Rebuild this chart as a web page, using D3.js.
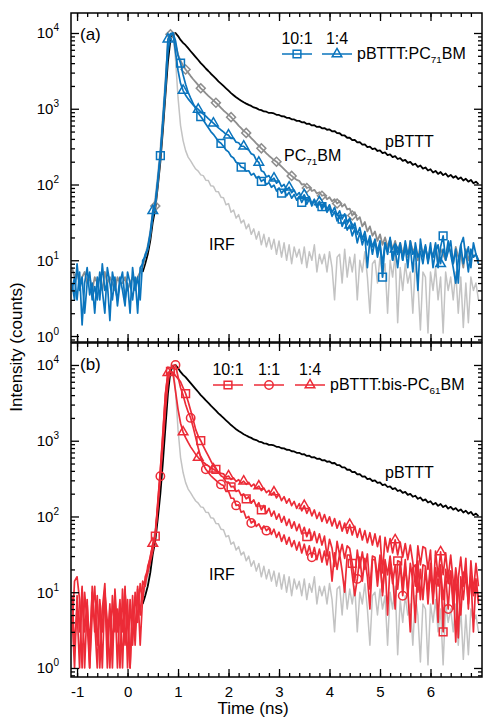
<!DOCTYPE html>
<html>
<head>
<meta charset="utf-8">
<script src="https://cdn.jsdelivr.net/npm/d3@7"></script>
<style>
  body { margin: 0; background: #fff; }
  text { font-family: "Liberation Sans", Arial, Helvetica, sans-serif; fill: #000; }
</style>
</head>
<body>
<svg width="483" height="719"></svg>
<script>
const svg = d3.select("svg");

// TCSPC decays, sampled every dt ns starting at t0 (counts, null = not recorded)
const t0 = -1.1, dt = 0.05;
const _ = null;

const pBTTT = [
  _, _, _, _, _, _, _, _, _, _,
  _, _, _, _, _, _, _, _, _, _,
  _, _, _, _, _, _, _, _, 7, 9,
  12, 18, 32, 48, 95, 200, 520, 1500, 4200, 8200,
  9700, 10000, 9100, 8100, 7400, 6900, 6300, 5750, 5250, 4800,
  4400, 4000, 3700, 3400, 3150, 2900, 2700, 2500, 2300, 2150,
  2000, 1860, 1730, 1610, 1510, 1420, 1345, 1280, 1220, 1170,
  1125, 1090, 1040, 1020, 975, 960, 922, 914, 880, 884,
  866, 832, 828, 796, 793, 760, 758, 726, 722, 692,
  692, 662, 664, 630, 634, 602, 606, 576, 582, 552,
  556, 528, 533, 504, 508, 476, 475, 444, 444, 414,
  414, 386, 388, 359, 362, 336, 338, 312, 317, 294,
  299, 277, 282, 260, 266, 245, 250, 230, 237, 217,
  223, 205, 211, 193, 199, 182, 188, 171, 178, 162,
  168, 153, 159, 144, 151, 138, 146, 133, 140, 127,
  134, 123, 129, 118, 124, 113, 119, 109, 115, 104,
  109, 101
];

const IRF = [
  _, _, _, _, _, _, _, _, _, _,
  _, _, _, _, _, _, _, _, _, _,
  _, _, _, _, _, _, _, _, 8, 12,
  16, 25, 45, 70, 140, 320, 900, 2600, 6800, 9600,
  10000, 4500, 1400, 600, 380, 280, 230, 205, 180, 160,
  150, 134, 131, 114, 113, 96, 95, 81, 80, 68,
  67, 54, 56, 43, 46, 36, 40, 31, 34, 26,
  30, 22, 26, 19, 24, 16, 22, 15, 20, 14,
  19, 12, 18, 11, 17, 10, 16, 9, 15, 11,
  14, 9, 15, 8, 13, 10, 16, 7, 12, 9,
  12, 7, 13, 8, 3, 11, 12, 5, 14, 6,
  11, 7, 12, 3, 10, 7, 13, 6, 2, 9,
  10, 5, 11, 6, 9, 2, 10, 6, 12, 1.5,
  8, 4, 9, 5, 7, 2, 9, 5, 1.2, 7,
  6, 1.1, 7, 4, 8, 3, 6, 1.1, 7, 4,
  6, 3, 7, 2, 6, 1.3, 5, 1.5, 6, 4,
  5, 3
];

const PC71BM = [
  8, 6, 7, 5, 6, 7, 5, 6, 4, 6,
  5, 6, 4, 7, 5, 6, 5, 4, 6, 5,
  5, 6, 4, 5, 6, 5, 6, 7, 8, 11,
  14, 21, 40, 52, 105, 230, 640, 1850, 8000, 9600,
  10000, 7000, 5200, 4300, 3700, 3300, 3000, 2700, 2450, 2250,
  2050, 1860, 1740, 1600, 1480, 1380, 1290, 1200, 1120, 1030,
  950, 890, 830, 775, 710, 655, 600, 555, 510, 480,
  445, 410, 380, 350, 325, 300, 280, 258, 240, 225,
  210, 200, 185, 172, 160, 148, 138, 130, 122, 115,
  112, 100, 101, 90, 92, 82, 85, 76, 79, 71,
  73, 64, 68, 60, 64, 56, 60, 51, 55, 47,
  48, 39, 43, 34, 37, 28, 32, 24, 28, 21,
  24, 18, 22, 16, 20, 15, 19, 14, 18, 13,
  17, 12, 16, 11, 18, 13, 15, 10, 16, 12,
  15, 10, 14, 11, 16, 9, 14, 12, 10, 15,
  13, 9, 15, 11, 12, 8, 14, 10, 13, 11,
  12, 10
];

const pc71_10to1 = [
  4, 6, 3, 7, 1.4, 5, 8, 3.5, 5, 2,
  6, 3, 9, 4, 5, 1.6, 7, 4.5, 3, 6,
  4, 2.5, 7, 5, 3, 6, 2, 8, 9, 12,
  14, 22, 38, 55, 110, 240, 650, 1900, 5500, 9300,
  10000, 7900, 5000, 4000, 2800, 2100, 1650, 1380, 1170, 1000,
  870, 790, 710, 630, 560, 500, 460, 415, 370, 350,
  320, 285, 270, 236, 224, 197, 190, 170, 166, 150,
  152, 133, 140, 122, 128, 110, 117, 100, 106, 92,
  98, 82, 90, 77, 85, 71, 79, 66, 74, 62,
  70, 58, 67, 55, 64, 52, 62, 50, 60, 51,
  57, 47, 54, 43, 50, 39, 45, 35, 41, 32,
  36, 26, 31, 22, 27, 19, 24, 16, 21, 15,
  19, 13, 18, 6, 17, 12, 19, 10, 16, 12,
  17, 10, 15, 8, 18, 12, 14, 4, 19, 11,
  16, 9, 14, 11, 17, 8, 15, 21, 10, 13,
  18, 9, 14, 5, 16, 20, 11, 15, 8, 17,
  12, 10
];

const pc71_1to4 = [
  5, 3, 9, 4, 6, 2, 5, 7, 3, 4.5,
  3, 7, 4, 2, 8, 5, 3, 6, 2.5, 5,
  7, 3, 5, 2, 8, 4, 6, 3, 10, 11,
  15, 23, 45, 58, 120, 260, 720, 2100, 8300, 9800,
  10000, 5600, 3200, 2150, 1740, 1510, 1350, 1230, 1120, 1050,
  980, 910, 850, 800, 740, 690, 645, 600, 560, 525,
  495, 460, 448, 405, 408, 362, 356, 322, 320, 296,
  286, 255, 246, 210, 196, 152, 146, 126, 131, 114,
  121, 104, 111, 94, 100, 85, 92, 78, 84, 72,
  78, 66, 73, 61, 69, 56, 64, 52, 59, 47,
  54, 43, 49, 38, 44, 33, 39, 28, 34, 25,
  29, 21, 26, 17, 23, 16, 21, 8, 19, 12,
  18, 11, 16, 9, 17, 13, 20, 10, 14, 8,
  16, 10, 18, 12, 15, 7, 17, 11, 13, 9,
  15, 10, 17, 8, 13, 16, 9, 14, 11, 18,
  12, 8, 5, 10, 16, 9, 13, 7, 14, 11,
  12, 9
];

const bis_10to1 = [
  5, 1, 9, 3, 12, 1, 7, 2, 10, 4,
  1, 8, 3, 11, 1, 6, 2, 9, 1, 7,
  3, 12, 1, 8, 2, 10, 4, 13, 8, 16,
  20, 30, 42, 55, 150, 400, 1200, 4000, 7800, 8200,
  8000, 7200, 6600, 6000, 5000, 4200, 3300, 2500, 1900, 1400,
  1150, 1000, 850, 730, 630, 540, 470, 420, 380, 345,
  330, 285, 284, 246, 250, 214, 222, 190, 198, 171,
  182, 150, 166, 136, 152, 122, 140, 110, 128, 101,
  118, 92, 108, 84, 100, 76, 92, 70, 85, 65,
  79, 59, 72, 54, 68, 49, 63, 45, 59, 42,
  55, 30, 50, 38, 22, 47, 31, 43, 28, 41,
  38, 24, 14, 36, 21, 34, 20, 32, 11, 30,
  29, 15, 31, 9, 27, 17, 30, 16, 6, 26,
  25, 12, 27, 9, 24, 14, 4, 26, 8, 23,
  22, 10, 24, 7, 21, 12, 23, 3, 20, 13,
  19, 8, 21, 11, 5, 18, 20, 9, 17, 3,
  15, 8
];

const bis_1to1 = [
  9, 2, 6, 1, 11, 3, 8, 1, 5, 12,
  2, 7, 1, 10, 4, 1, 9, 3, 6, 1,
  11, 2, 8, 1, 6, 3, 12, 2, 9, 14,
  18, 25, 35, 60, 130, 340, 900, 2500, 5800, 8800,
  9800, 10000, 7000, 5000, 4000, 3000, 2400, 2000, 1500, 1100,
  800, 600, 480, 420, 380, 345, 320, 300, 280, 265,
  256, 214, 215, 174, 174, 140, 142, 114, 118, 95,
  100, 82, 88, 74, 80, 68, 75, 65, 70, 58,
  68, 53, 62, 47, 57, 43, 53, 40, 48, 36,
  46, 33, 43, 31, 41, 29, 39, 27, 37, 25,
  35, 23, 34, 14, 33, 20, 32, 19, 10, 31,
  31, 17, 9, 15, 29, 14, 28, 16, 6, 27,
  27, 12, 26, 10, 25, 5, 24, 13, 23, 11,
  24, 9, 22, 11, 3, 21, 23, 10, 20, 8,
  21, 7, 19, 9, 18, 4, 20, 8, 17, 6,
  19, 6, 17, 2.5, 16, 8, 18, 7, 15, 9,
  14, 7
];

const bis_1to4 = [
  3, 14, 16, 8, 1, 10, 4, 1, 12, 3,
  9, 1, 6, 13, 2, 7, 1, 11, 3, 8,
  1, 10, 4, 1, 9, 2, 11, 5, 14, 12,
  22, 28, 44, 58, 160, 420, 1300, 4200, 7900, 8300,
  7800, 4500, 2600, 1700, 1300, 1100, 950, 830, 740, 660,
  600, 555, 520, 490, 465, 440, 420, 400, 385, 370,
  365, 330, 342, 308, 322, 290, 306, 276, 292, 266,
  282, 250, 268, 236, 252, 220, 237, 206, 221, 192,
  210, 176, 196, 162, 183, 150, 171, 139, 158, 128,
  148, 119, 139, 110, 130, 102, 122, 94, 113, 86,
  106, 82, 99, 75, 94, 70, 87, 64, 82, 60,
  78, 57, 74, 53, 69, 49, 65, 45, 61, 42,
  59, 40, 55, 18, 53, 34, 51, 33, 49, 31,
  46, 29, 44, 27, 42, 25, 12, 41, 23, 40,
  38, 20, 36, 9, 35, 16, 34, 17, 33, 15,
  31, 14, 2.2, 15, 29, 12, 28, 6, 26, 10,
  24, 12
];

const xTicks = [-1, 0, 1, 2, 3, 4, 5, 6];
const xMinor = d3.range(-1.0, 7.0, 0.2).map(v => +v.toFixed(1));
const decades = [0, 1, 2, 3, 4];
const ratiosA = ["10:1", "1:4"];
const ratiosB = ["10:1", "1:1", "1:4"];

const blue = "#0a74bd", red = "#ec2b37", gray = "#8e8e8e", light = "#c3c3c3";
const left = 71, right = 482;

const x = d3.scaleLinear().domain([-1.12, 7.02]).range([left, right]);

const sym = {
  square: d3.symbol().type(d3.symbolSquare).size(60)(),
  triangle: d3.symbol().type(d3.symbolTriangle).size(40)(),
  circle: d3.symbol().type(d3.symbolCircle).size(55)(),
  diamond: d3.symbol().type(d3.symbolSquare).size(40)()
};

// marker placement: every `every` points, thinned to every third one after `sparse`
const panels = [
  {
    name: "(a)", top: 13, bottom: 342, yDomain: [10 ** -0.079, 10 ** 4.264], xLabels: false,
    series: [
      { values: IRF, color: light, width: 1.5 },
      { values: pBTTT, color: "#000", width: 1.8 },
      { values: PC71BM, color: gray, width: 1.8, marker: "diamond", every: 6, offset: 3, from: 33, to: 111, sparse: 999 },
      { values: pc71_1to4, color: blue, width: 1.7, marker: "triangle", every: 6, offset: 2, from: 32, to: 161, sparse: 100 },
      { values: pc71_10to1, color: blue, width: 1.7, marker: "square", every: 8, offset: 3, from: 35, to: 161, sparse: 110 }
    ],
    legend: { color: blue, labels: ratiosA, markers: ["square", "triangle"], x0: 282, step: 40, yText: 44, yLine: 54,
              name: ["pBTTT:PC", "71", "BM"], nameX: 357, nameY: 59 },
    notes: [
      { text: ["pBTTT"], x: 385, y: 147 },
      { text: ["PC", "71", "BM"], x: 284, y: 161 },
      { text: ["IRF"], x: 209, y: 250 }
    ]
  },
  {
    name: "(b)", top: 343, bottom: 677, yDomain: [10 ** -0.119, 10 ** 4.29], xLabels: true,
    series: [
      { values: IRF, color: light, width: 1.5 },
      { values: pBTTT, color: "#000", width: 1.8 },
      { values: bis_1to4, color: red, width: 1.7, marker: "triangle", every: 6, offset: 2, from: 32, to: 161, sparse: 80 },
      { values: bis_10to1, color: red, width: 1.7, marker: "square", every: 6, offset: 3, from: 33, to: 161, sparse: 70 },
      { values: bis_1to1, color: red, width: 1.7, marker: "circle", every: 6, offset: 5, from: 35, to: 161, sparse: 80 }
    ],
    legend: { color: red, labels: ratiosB, markers: ["square", "circle", "triangle"], x0: 213, step: 41, yText: 375, yLine: 385,
              name: ["pBTTT:bis-PC", "61", "BM"], nameX: 330, nameY: 390 },
    notes: [
      { text: ["pBTTT"], x: 385, y: 478 },
      { text: ["IRF"], x: 209, y: 580 }
    ]
  }
];

function addRichText(g, parts, px, py, size) {
  const t = g.append("text").attr("x", px).attr("y", py).style("font-size", size + "px");
  parts.forEach((p, k) => {
    if (k === 1) {
      t.append("tspan").text(p).attr("dy", 4).style("font-size", (size * 0.62) + "px");
    } else if (k === 2) {
      t.append("tspan").text(p).attr("dy", -4);
    } else {
      t.append("tspan").text(p);
    }
  });
  return t;
}

panels.forEach((p, pi) => {
  const y = d3.scaleLog().domain(p.yDomain).range([p.bottom, p.top]);
  const g = svg.append("g");

  const clipId = "clip" + pi;
  svg.append("clipPath").attr("id", clipId)
    .append("rect").attr("x", left).attr("y", p.top)
    .attr("width", right - left).attr("height", p.bottom - p.top);

  const plot = g.append("g").attr("clip-path", `url(#${clipId})`);

  const line = d3.line()
    .defined(d => d != null)
    .x((d, i) => x(t0 + i * dt))
    .y(d => y(d));

  p.series.forEach(s => {
    plot.append("path")
      .attr("d", line(s.values))
      .attr("fill", "none")
      .attr("stroke", s.color)
      .attr("stroke-width", s.width)
      .attr("stroke-linejoin", "round");

    if (s.marker) {
      const idx = d3.range(s.from, s.to + 1)
        .filter(i => i % s.every === s.offset)
        .filter(i => i <= s.sparse || ((i - s.offset) / s.every) % 3 === 0);
      plot.selectAll(null).data(idx).join("path")
        .attr("d", sym[s.marker])
        .attr("transform", i => `translate(${x(t0 + i * dt)},${y(s.values[i])})` + (s.marker === "diamond" ? " rotate(45)" : ""))
        .attr("fill", "none")
        .attr("stroke", s.color)
        .attr("stroke-width", 1.5);
    }
  });

  // axes, ticks pointing inward
  const yMinor = [];
  for (let d = -1; d <= 4; d++) {
    for (let m = 2; m <= 9; m++) {
      const v = m * 10 ** d;
      if (v > p.yDomain[0] && v < p.yDomain[1]) yMinor.push(v);
    }
  }
  const majorY = decades.map(d => 10 ** d);

  const axes = [
    [d3.axisBottom(x).tickValues(xTicks).tickSize(-8), `translate(0,${p.bottom})`, true],
    [d3.axisBottom(x).tickValues(xMinor).tickSize(-4), `translate(0,${p.bottom})`, false],
    [d3.axisTop(x).tickValues(xTicks).tickSize(-8), `translate(0,${p.top})`, false],
    [d3.axisTop(x).tickValues(xMinor).tickSize(-4), `translate(0,${p.top})`, false],
    [d3.axisLeft(y).tickValues(majorY).tickSize(-8), `translate(${left},0)`, false],
    [d3.axisLeft(y).tickValues(yMinor).tickSize(-4), `translate(${left},0)`, false],
    [d3.axisRight(y).tickValues(majorY).tickSize(-8), `translate(${right},0)`, false],
    [d3.axisRight(y).tickValues(yMinor).tickSize(-4), `translate(${right},0)`, false]
  ];
  axes.forEach(([ax, tr, labelled]) => {
    const showLabels = labelled && p.xLabels;
    ax.tickFormat(showLabels ? (d => String(d)) : "").tickPadding(9);
    const a = g.append("g").attr("transform", tr).call(ax);
    a.select(".domain").remove();
    a.selectAll("line").attr("stroke", "#000").attr("stroke-width", 1.3);
    a.selectAll("text").style("font-size", "15px").style("font-family", '"Liberation Sans", Arial, sans-serif').attr("fill", "#000");
  });

  g.append("rect")
    .attr("x", left).attr("y", p.top)
    .attr("width", right - left).attr("height", p.bottom - p.top)
    .attr("fill", "none").attr("stroke", "#000").attr("stroke-width", 1.5);

  // y tick labels: 10^n
  decades.forEach(d => {
    const t = g.append("text")
      .attr("x", 59).attr("y", y(10 ** d) + 5.5)
      .attr("text-anchor", "end")
      .style("font-size", "15px");
    t.append("tspan").text("10");
    t.append("tspan").text(d).attr("dy", -7).style("font-size", "10px");
  });

  // panel tag
  g.append("text").attr("x", 80).attr("y", p.top + 27).style("font-size", "17px").text(p.name);

  // legend
  const L = p.legend;
  L.labels.forEach((lab, k) => {
    const cx = L.x0 + 15 + k * L.step;
    g.append("text").attr("x", cx).attr("y", L.yText).attr("text-anchor", "middle")
      .style("font-size", "16px").text(lab);
    g.append("line").attr("x1", cx - 15).attr("x2", cx + 15)
      .attr("y1", L.yLine).attr("y2", L.yLine)
      .attr("stroke", L.color).attr("stroke-width", 1.5);
    g.append("path").attr("d", sym[L.markers[k]])
      .attr("transform", `translate(${cx},${L.yLine})`)
      .attr("fill", "none").attr("stroke", L.color).attr("stroke-width", 1.5);
  });
  addRichText(g, L.name, L.nameX, L.nameY, 16);

  p.notes.forEach(n => addRichText(g, n.text, n.x, n.y, 16));
});

// axis titles
svg.append("text")
  .attr("transform", "translate(22,347) rotate(-90)")
  .attr("text-anchor", "middle")
  .style("font-size", "17px")
  .text("Intensity (counts)");

svg.append("text")
  .attr("x", 253).attr("y", 714)
  .attr("text-anchor", "middle")
  .style("font-size", "17px")
  .text("Time (ns)");
</script>
</body>
</html>
